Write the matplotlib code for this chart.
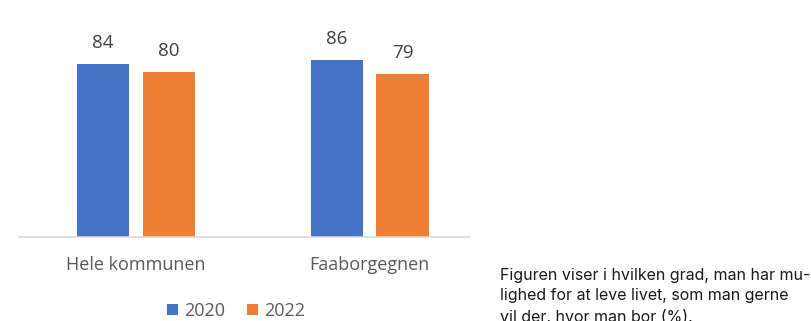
import matplotlib.pyplot as plt
import numpy as np

categories = ["Hele kommunen", "Faaborgegnen"]
years = ["2020", "2022"]
values_2020 = [84, 86]
values_2022 = [80, 79]

colors = ["#4472C4", "#ED7D31"]
W, H = 812, 321

fig = plt.figure(figsize=(W / 100, H / 100), dpi=100)
# plot area in pixel units: x 19..470, y 31..237
ax = fig.add_axes([19 / W, 1 - 237 / H, (470 - 19) / W, (237 - 31) / H])

x = np.arange(len(categories))
width = 0.223
offset = 0.141
for vals, off, col, lab in [(values_2020, -offset, colors[0], years[0]),
                            (values_2022, offset, colors[1], years[1])]:
    bars = ax.bar(x + off, vals, width, color=col, label=lab)
    for b, v in zip(bars, vals):
        ax.text(b.get_x() + b.get_width() / 2, v + 7.8, str(v), ha="center", va="baseline",
                fontsize=13.5, color="#404040", family="Open Sans")

ax.set_xlim(-0.501, 1.43)
ax.set_ylim(0, 100)
ax.set_yticks([])
ax.set_xticks(x)
ax.set_xticklabels(categories, fontsize=13, color="#595959", family="Open Sans")
ax.tick_params(axis="x", length=0, pad=14)
for s in ["top", "right", "left"]:
    ax.spines[s].set_visible(False)
ax.spines["bottom"].set_color("#D9D9D9")
ax.spines["bottom"].set_linewidth(1.2)

fig.legend(loc="center", bbox_to_anchor=(236 / W, 1 - 311 / H), ncol=2, frameon=False,
           handlelength=0.6, handleheight=0.6, handletextpad=0.35, columnspacing=1.2,
           prop={"family": "Open Sans", "size": 13}, labelcolor="#595959")

fig.text(500 / W, 1 - 268 / H,
         "Figuren viser i hvilken grad, man har mu-\nlighed for at leve livet, som man gerne\nvil der, hvor man bor (%).",
         ha="left", va="top", fontsize=11.5, color="#1a1a1a", family="Inter", linespacing=1.45)

plt.savefig("out.png", dpi=100)
